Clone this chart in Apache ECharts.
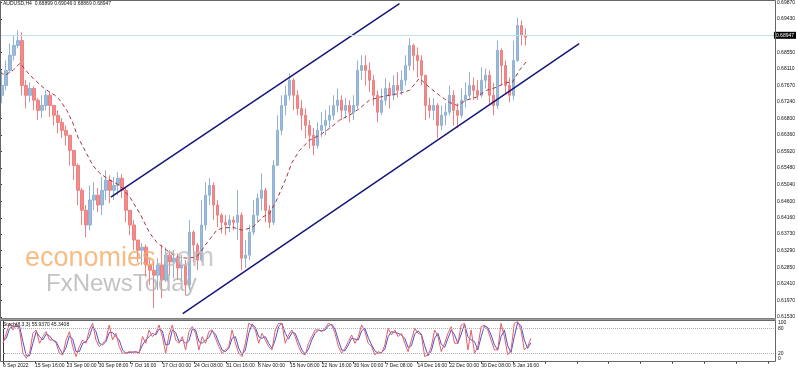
<!DOCTYPE html>
<html><head><meta charset="utf-8">
<script src="https://cdn.jsdelivr.net/npm/echarts@6/dist/echarts.min.js"></script>
<style>html,body{margin:0;padding:0;background:#fff}#c{width:798px;height:372px}</style>
</head><body><div id="c"></div>
<script>
// ---- data (each candle = 4 H4 bars) ----
const firstOpen = 0.6741;
const closes = [
.6767,.6807,.6847,.6873,.6886,.6767,.6741,.6759,.6728,.6701,
.6714,.6741,.6714,.6688,.6669,.6648,.6635,.6595,.6555,.6489,
.6436,.6397,.6463,.6476,.6450,.6489,.6516,.6489,.6502,.6521,
.6489,.6436,.6397,.6357,.6330,.6338,.6291,.6277,.6264,.6291,
.6251,.6317,.6299,.6309,.6283,.6291,.6238,.6378,.6344,.6304,
.6397,.6476,.6502,.6450,.6423,.6404,.6397,.6410,.6404,.6423,
.6309,.6317,.6378,.6423,.6468,.6489,.6436,.6404,.6555,.6648,
.6714,.6741,.6781,.6741,.6706,.6688,.6661,.6635,.6608,.6648,
.6661,.6675,.6688,.6714,.6728,.6701,.6714,.6696,.6714,.6807,
.6820,.6807,.6781,.6741,.6696,.6728,.6759,.6741,.6767,.6754,
.6781,.6820,.6873,.6847,.6833,.6794,.6714,.6701,.6714,.6661,
.6688,.6696,.6741,.6701,.6688,.6728,.6741,.6767,.6754,.6741,
.6781,.6794,.6741,.6714,.6860,.6820,.6767,.6741,.6833,.6926,
.6900,.68947];
const highs = [
.6807,.6833,.6878,.6900,.6913,.6908,.6781,.6775,.6765,.6733,
.6741,.6754,.6749,.6714,.6701,.6680,.6661,.6635,.6595,.6560,
.6495,.6450,.6502,.6510,.6495,.6524,.6542,.6529,.6524,.6537,
.6532,.6497,.6436,.6410,.6357,.6349,.6345,.6309,.6299,.6309,
.6344,.6338,.6330,.6330,.6322,.6317,.6304,.6410,.6383,.6349,
.6463,.6510,.6521,.6510,.6463,.6428,.6423,.6423,.6420,.6489,
.6430,.6357,.6397,.6463,.6481,.6534,.6495,.6450,.6569,.6688,
.6741,.6767,.6799,.6786,.6754,.6728,.6706,.6675,.6654,.6669,
.6696,.6701,.6714,.6741,.6759,.6741,.6733,.6728,.6741,.6833,
.6847,.6847,.6828,.6794,.6754,.6759,.6786,.6775,.6794,.6802,
.6807,.6847,.6892,.6878,.6868,.6847,.6794,.6735,.6733,.6720,
.6714,.6720,.6767,.6754,.6720,.6759,.6775,.6802,.6788,.6781,
.6815,.6812,.6807,.6773,.6886,.6865,.6833,.6788,.6886,.6947,
.6939,.6918];
const lows = [
.6720,.6754,.6800,.6833,.6865,.6741,.6706,.6722,.6701,.6675,
.6680,.6701,.6683,.6661,.6640,.6627,.6608,.6555,.6516,.6450,
.6397,.6365,.6383,.6436,.6431,.6423,.6463,.6455,.6463,.6476,
.6468,.6404,.6370,.6330,.6299,.6291,.6259,.6238,.6177,.6224,
.6203,.6245,.6264,.6256,.6251,.6246,.6211,.6224,.6299,.6277,
.6299,.6383,.6450,.6410,.6391,.6375,.6370,.6378,.6383,.6357,
.6277,.6283,.6304,.6370,.6404,.6436,.6404,.6389,.6397,.6555,
.6635,.6688,.6728,.6701,.6688,.6648,.6627,.6600,.6582,.6600,
.6630,.6635,.6653,.6675,.6696,.6675,.6680,.6669,.6675,.6706,
.6781,.6767,.6749,.6714,.6669,.6688,.6714,.6706,.6728,.6735,
.6741,.6767,.6807,.6807,.6788,.6767,.6675,.6680,.6675,.6627,
.6648,.6661,.6688,.6661,.6653,.6680,.6709,.6733,.6728,.6728,
.6735,.6759,.6714,.6688,.6705,.6767,.6746,.6722,.6728,.6830,
.6873,.6873];

// moving average (bar index, price)
const maBars = [0,5,13,20,30,43,50,55,60,67,73,78,86,93,100,110,120,130,140,150,157,167,177,187,197,200,207,217,223,233,243,253,263,270,277,287,292,300,310,320,330,340,350,360,370,380,390,400,410,420,430,440,450,458,467,477,487,497,507,513,520,528];
const maVals = [.6802,.6794,.6807,.6826,.6794,.6762,.6749,.6741,.6728,.6701,.6667,.6630,.6590,.6555,.6534,.6516,.6502,.6471,.6428,.6375,.6351,.6330,.6312,.6309,.6312,.6322,.6349,.6383,.6389,.6391,.6383,.6391,.6418,.6428,.6463,.6524,.6561,.6595,.6622,.6635,.6653,.6675,.6688,.6706,.6728,.6736,.6741,.6746,.6754,.6786,.6762,.6741,.6722,.6714,.6728,.6736,.6754,.6762,.6775,.6775,.6807,.6833];

// stochastic %K and %D
const stochK = [44,68,92,76,92,76,20,8,20,68,76,44,60,72,52,52,44,20,16,52,72,36,12,36,52,44,76,92,52,36,44,52,88,52,68,36,20,20,24,22,24,20,60,44,76,60,68,88,60,20,64,88,52,44,60,28,72,84,68,28,60,44,72,76,56,36,20,28,36,76,44,20,12,44,92,88,76,44,68,52,36,28,76,92,92,44,64,76,60,36,20,16,44,60,76,76,72,80,92,88,68,36,20,32,48,64,44,60,88,72,44,36,16,24,20,40,80,64,76,60,68,44,24,52,80,68,64,12,16,36,76,60,24,44,68,84,44,44,88,92,28,76,20,36,84,88,76,52,28,28,92,60,16,28,92,96,76,28,36,56];
const stochD = [50,56,80,84,84,84,48,14,14,44,72,60,52,66,62,52,48,32,18,34,62,54,24,24,44,48,60,84,72,44,40,48,70,70,60,52,28,20,22,23,23,22,40,52,60,68,64,78,74,40,42,76,70,48,52,44,50,78,76,48,44,52,58,74,66,46,28,24,32,56,60,32,16,28,68,90,82,60,56,60,44,32,52,84,92,68,54,70,68,48,28,18,30,52,68,76,74,76,86,90,78,52,28,26,40,56,54,52,74,80,58,40,26,20,22,30,60,72,70,68,64,56,34,38,66,74,66,38,14,26,56,68,42,34,56,76,64,44,66,90,60,52,48,28,60,86,82,64,40,28,60,76,38,22,60,94,86,52,32,45];

// channel trend lines: [bar index, price]
const channelUpper = [[111, 0.6471], [400, 0.6984]];
const channelLower = [[183, 0.6162], [580, 0.6878]];
const lastPrice = 0.68947;

const priceTicks = [0.6987,0.6943,0.6855,0.6811,0.6767,0.6724,0.6680,0.6636,0.6592,0.6548,0.6504,0.6460,0.6416,0.6373,0.6329,0.6285,0.6241,0.6197,0.6153];
const priceTickLabels = ['0.69870','0.69430','0.68550','0.68110','0.67670','0.67240','0.66800','0.66360','0.65920','0.65480','0.65040','0.64600','0.64160','0.63730','0.63290','0.62850','0.62410','0.61970','0.61530'];
const timeLabels = ['6 Sep 2022','15 Sep 16:00','23 Sep 00:00','30 Sep 08:00','7 Oct 16:00','17 Oct 00:00','24 Oct 08:00','31 Oct 16:00','8 Nov 00:00','15 Nov 08:00','22 Nov 16:00','30 Nov 00:00','7 Dec 08:00','14 Dec 16:00','22 Dec 00:00','30 Dec 08:00','6 Jan 16:00'];
const stochTicks = [0, 20, 80, 100];
const titleText = 'AUDUSD,H4  0.68899 0.69046 0.68869 0.68947';
const stochText = 'Stoch(8,3,3) 55.9370 45.3408';

// ---- build ----
const BARS_PER_CANDLE = 4, STOCH_STEP = 10 / 3;
const candleData = closes.map((c, i) => {
  const o = i === 0 ? firstOpen : closes[i - 1];
  return [BARS_PER_CANDLE * i + 2, o, c, lows[i], highs[i]];
});
const maData = maBars.map((x, i) => [x, maVals[i]]);
const kData = stochK.map((v, i) => [i * STOCH_STEP, v]);
const dData = stochD.map((v, i) => [i * STOCH_STEP, v]);

const FONT = 'Liberation Sans';
const chart = echarts.init(document.getElementById('c'), null, {renderer: 'canvas'});
const nearestLabel = v => {
  let k = 0, b = 1;
  priceTicks.forEach((t, i) => { const d = Math.abs(t - v); if (d < b) { b = d; k = i; } });
  return priceTickLabels[k];
};
chart.setOption({
  animation: false,
  backgroundColor: '#fff',
  textStyle: {fontFamily: FONT},
  title: [
    {text: titleText, left: 3, top: 1, padding: 0, textStyle: {fontSize: 5, fontWeight: 'normal', color: '#111', fontFamily: FONT}},
    {text: stochText, left: 3, top: 322, padding: 0, textStyle: {fontSize: 5, fontWeight: 'normal', color: '#111', fontFamily: FONT}}
  ],
  grid: [
    {left: 0, top: 2, width: 775, height: 315},
    {left: 0, top: 320, width: 775, height: 41.6}
  ],
  xAxis: [
    {type: 'value', gridIndex: 0, min: 0, max: 775, show: false, splitLine: {show: false}},
    {type: 'value', gridIndex: 1, min: 0, max: 775, interval: 32,
     axisLine: {lineStyle: {color: '#333'}}, splitLine: {show: false},
     axisTick: {length: 2, lineStyle: {color: '#333'}},
     axisLabel: {fontSize: 5, color: '#111', align: 'left', margin: 2, fontFamily: FONT, showMaxLabel: false,
       formatter: v => timeLabels[Math.round(v / 32)] || ''}}
  ],
  yAxis: [
    {type: 'value', gridIndex: 0, position: 'right', min: 0.6153, max: 0.6987, scale: true,
     splitLine: {show: false}, axisLine: {show: true, lineStyle: {color: '#333'}},
     axisTick: {show: true, length: 2, customValues: priceTicks, lineStyle: {color: '#333'}},
     axisLabel: {fontSize: 5, color: '#111', margin: 3, fontFamily: FONT, customValues: priceTicks, formatter: nearestLabel}},
    {type: 'value', gridIndex: 1, position: 'right', min: 0, max: 100,
     splitLine: {show: false}, axisLine: {show: true, lineStyle: {color: '#333'}},
     axisTick: {show: true, length: 2, customValues: stochTicks, lineStyle: {color: '#333'}},
     axisLabel: {fontSize: 5, color: '#111', margin: 3, fontFamily: FONT, customValues: stochTicks,
       verticalAlignMinLabel: 'bottom', verticalAlignMaxLabel: 'top', formatter: v => String(v)}}
  ],
  graphic: [
    {type: 'text', left: 25, top: 245, zlevel: 1, silent: true,
     style: {text: '{o|economies}{g|.com}', rich: {
       o: {fontSize: 27, fontFamily: 'Liberation Sans', fill: 'rgba(246,170,100,0.8)'},
       g: {fontSize: 27, fontFamily: 'Liberation Sans', fill: 'rgba(190,190,190,0.8)'}}}},
    {type: 'text', left: 46, top: 272, zlevel: 1, silent: true,
     style: {text: 'FxNewsToday', fontSize: 24, fontFamily: 'Liberation Sans', fill: 'rgba(175,175,175,0.75)'}},
    {type: 'rect', zlevel: 1, silent: true, shape: {x: 0.5, y: 0.5, width: 775, height: 318}, style: {fill: 'none', stroke: '#666', lineWidth: 1}},
    {type: 'line', zlevel: 1, silent: true, shape: {x1: 0, y1: 319.5, x2: 776, y2: 319.5}, style: {stroke: '#9a9a9a', lineWidth: 2}},
    {type: 'rect', zlevel: 1, silent: true, shape: {x: 0.5, y: 320.5, width: 775, height: 41}, style: {fill: 'none', stroke: '#666', lineWidth: 1}}
  ],
  series: [
    {type: 'candlestick', name: 'AUDUSD', xAxisIndex: 0, yAxisIndex: 0, data: candleData,
     encode: {x: 0, y: [1, 2, 3, 4]}, barWidth: 3,
     itemStyle: {color: '#9dbcdc', color0: '#f28c8c', borderColor: '#8fb2d6', borderColor0: '#ee8080', borderWidth: 1},
     markLine: {silent: true, symbol: 'none', animation: false,
       lineStyle: {color: '#c2e0ea', width: 1, type: 'solid'},
       label: {show: true, position: 'end', distance: 0, formatter: lastPrice.toFixed(5),
         backgroundColor: '#000', color: '#fff', fontSize: 5, padding: [1, 2], fontFamily: FONT},
       data: [{yAxis: lastPrice}]}},
    {type: 'line', name: 'MA', xAxisIndex: 0, yAxisIndex: 0, data: maData, symbol: 'none',
     lineStyle: {color: '#a03440', width: 1, type: [4, 3]}, z: 3},
    {type: 'line', name: 'upper', xAxisIndex: 0, yAxisIndex: 0, data: channelUpper, symbol: 'none',
     lineStyle: {color: '#16167a', width: 1.5}, z: 4},
    {type: 'line', name: 'lower', xAxisIndex: 0, yAxisIndex: 0, data: channelLower, symbol: 'none',
     lineStyle: {color: '#16167a', width: 1.5}, z: 4},
    {type: 'line', name: '%D', xAxisIndex: 1, yAxisIndex: 1, data: dData, symbol: 'none',
     lineStyle: {color: '#5050c8', width: 1}},
    {type: 'line', name: '%K', xAxisIndex: 1, yAxisIndex: 1, data: kData, symbol: 'none',
     lineStyle: {color: '#e0606a', width: 1},
     markLine: {silent: true, symbol: 'none', label: {show: false},
       lineStyle: {color: '#b0b0b0', width: 1, type: 'dotted'},
       data: [{yAxis: 20}, {yAxis: 80}]}}
  ]
});
</script></body></html>
